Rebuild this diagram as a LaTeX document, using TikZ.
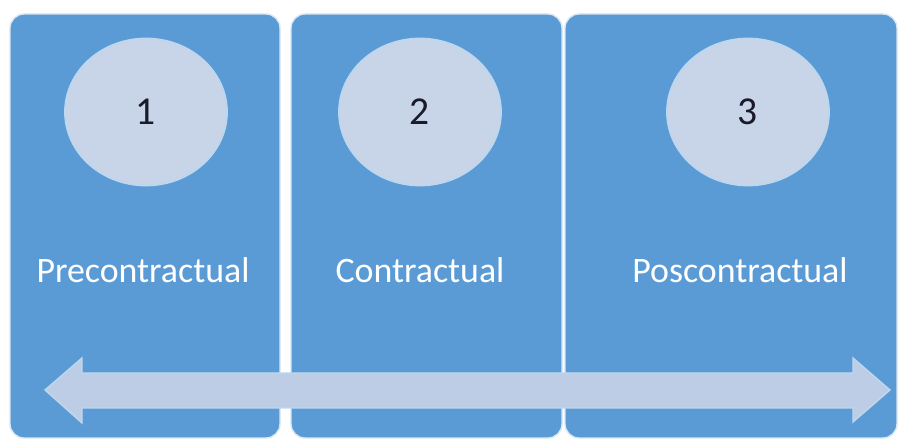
\documentclass[tikz,border=0pt]{standalone}
\usepackage{fontspec}
\setmainfont{Carlito}
\usetikzlibrary{shapes.geometric}
\definecolor{panelblue}{RGB}{91,155,213}
\definecolor{discfill}{RGB}{200,212,232}
\definecolor{discline}{RGB}{189,215,238}
\definecolor{arrowfill}{RGB}{190,205,230}
\definecolor{digitink}{RGB}{26,26,40}
\def\panelh{424}
\def\discw{162}
\def\disch{147}

\begin{document}
\begin{tikzpicture} [x = 0.02 cm, y = 0.02 cm,
    panel/.style = {draw = discline!60!white, line width = 0.8pt, fill = panelblue,
      rounded corners = 8pt, inner sep = 0pt, minimum height = \panelh*0.02cm},
    disc/.style = {ellipse, draw = discline, line width = 1pt, fill = discfill,
      inner sep = 0pt, minimum width = \discw*0.02cm, minimum height = \disch*0.02cm,
      text = digitink, font = \fontsize{22.5}{26}\selectfont},
    phase/.style = {text = white, font = \fontsize{20.4}{24}\selectfont}]
    \useasboundingbox (0, 0) rectangle (904, 439);

    % three stages
    \node[panel, minimum width = 270*0.02cm] (pre)  at (145, 213) {};
    \node[panel, minimum width = 271*0.02cm] (con)  at (426.5, 213) {};
    \node[panel, minimum width = 332*0.02cm] (post) at (731, 213) {};

    \node[disc] (one)   at (146, 327) {1};
    \node[disc] (two)   at (420, 327) {2};
    \node[disc] (three) at (748, 327) {3};

    \node[phase] (prelabel)  at (143, 169) {Precontractual};
    \node[phase] (conlabel)  at (420, 169) {Contractual};
    \node[phase] (postlabel) at (740, 169) {Poscontractual};

    % timeline arrow
    \coordinate (tipl) at (45, 49);
    \coordinate (tipr) at (890, 49);
    \draw[draw = discline, line width = 0.8pt, fill = arrowfill, line join = miter]
         (tipl) -- (82, 81) -- (82, 66) -- (853, 66) -- (853, 81)
      -- (tipr) -- (853, 17) -- (853, 31) -- (82, 31) -- (82, 16) -- cycle;
  \end{tikzpicture}
\end{document}
